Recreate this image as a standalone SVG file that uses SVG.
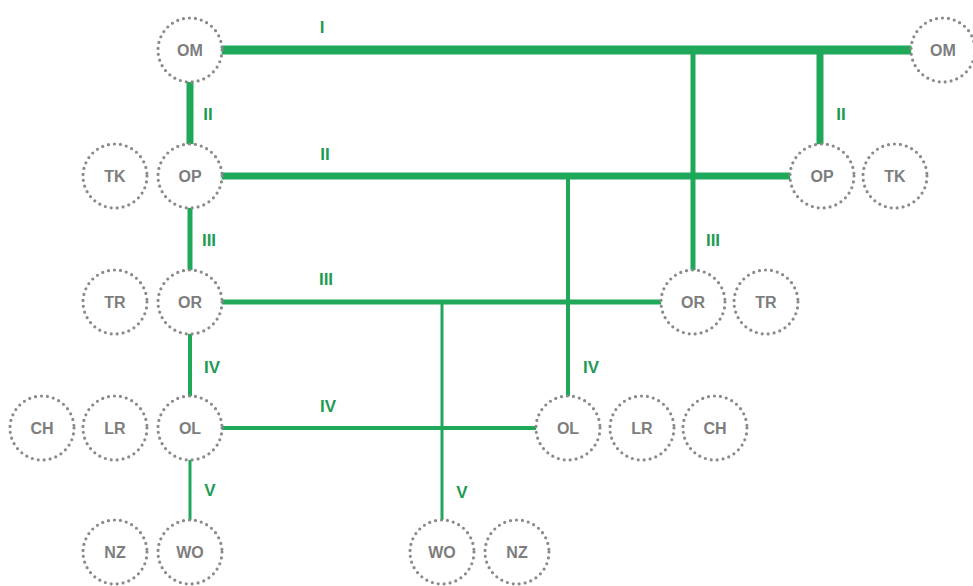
<svg xmlns="http://www.w3.org/2000/svg" width="973" height="586" viewBox="0 0 973 586">
  <style>
    .node circle { fill: #ffffff; stroke: #8a8a8a; stroke-width: 3.2; stroke-dasharray: 0 6; stroke-linecap: round; }
    .node text { font-family: "Liberation Sans", Arial, sans-serif; font-weight: bold; font-size: 16px; fill: #7d7d7d; text-anchor: middle; dominant-baseline: central; }
    .edges line { stroke: #1fa85a; stroke-linecap: butt; fill: none; }
    .w1 { stroke-width: 9; }
    .w2 { stroke-width: 7; }
    .w3 { stroke-width: 5; }
    .w4 { stroke-width: 4; }
    .w5 { stroke-width: 3; }
    .lbl { font-family: "Liberation Sans", Arial, sans-serif; font-weight: bold; font-size: 17px; fill: #1f9a55; text-anchor: middle; dominant-baseline: central; }
  </style>
  <rect width="973" height="586" fill="#ffffff"/>

  <!-- connectors, drawn first so the circles sit on top -->
  <g id="connectors" class="edges">
    <line class="w1" x1="220" y1="50" x2="914" y2="50"/>
    <line class="w2" x1="190" y1="80" x2="190" y2="146"/>
    <line class="w2" x1="220" y1="176" x2="792" y2="176"/>
    <line class="w2" x1="820" y1="50" x2="820" y2="146"/>
    <line class="w3" x1="693" y1="50" x2="693" y2="273"/>
    <line class="w3" x1="190" y1="206" x2="190" y2="273"/>
    <line class="w3" x1="220" y1="302" x2="663" y2="302"/>
    <line class="w4" x1="568" y1="176" x2="568" y2="399"/>
    <line class="w4" x1="190" y1="332" x2="190" y2="399"/>
    <line class="w4" x1="220" y1="428" x2="538" y2="428"/>
    <line class="w5" x1="442" y1="302" x2="442" y2="523"/>
    <line class="w5" x1="190" y1="458" x2="190" y2="523"/>
  </g>

  <!-- connector labels -->
  <g id="labels">
    <text class="lbl" x="322" y="27">I</text>
    <text class="lbl" x="208" y="114">II</text>
    <text class="lbl" x="325" y="154">II</text>
    <text class="lbl" x="841" y="114">II</text>
    <text class="lbl" x="209" y="240">III</text>
    <text class="lbl" x="326" y="279">III</text>
    <text class="lbl" x="713" y="240">III</text>
    <text class="lbl" x="212" y="367">IV</text>
    <text class="lbl" x="328" y="406">IV</text>
    <text class="lbl" x="591" y="367">IV</text>
    <text class="lbl" x="210" y="490">V</text>
    <text class="lbl" x="462" y="492">V</text>
  </g>

  <!-- left column -->
  <g id="om-left" class="node"><circle cx="190" cy="50" r="32"/><text x="190" y="50">OM</text></g>
  <g id="tk-left" class="node"><circle cx="115" cy="176" r="32"/><text x="115" y="176">TK</text></g>
  <g id="op-left" class="node"><circle cx="190" cy="176" r="32"/><text x="190" y="176">OP</text></g>
  <g id="tr-left" class="node"><circle cx="115" cy="302" r="32"/><text x="115" y="302">TR</text></g>
  <g id="or-left" class="node"><circle cx="190" cy="302" r="32"/><text x="190" y="302">OR</text></g>
  <g id="ch-left" class="node"><circle cx="42" cy="428" r="32"/><text x="42" y="428">CH</text></g>
  <g id="lr-left" class="node"><circle cx="115" cy="428" r="32"/><text x="115" y="428">LR</text></g>
  <g id="ol-left" class="node"><circle cx="190" cy="428" r="32"/><text x="190" y="428">OL</text></g>
  <g id="nz-left" class="node"><circle cx="115" cy="552" r="32"/><text x="115" y="552">NZ</text></g>
  <g id="wo-left" class="node"><circle cx="190" cy="552" r="32"/><text x="190" y="552">WO</text></g>

  <!-- right side -->
  <g id="om-right" class="node"><circle cx="943" cy="50" r="32"/><text x="943" y="50">OM</text></g>
  <g id="op-right" class="node"><circle cx="822" cy="176" r="32"/><text x="822" y="176">OP</text></g>
  <g id="tk-right" class="node"><circle cx="895" cy="176" r="32"/><text x="895" y="176">TK</text></g>
  <g id="or-right" class="node"><circle cx="693" cy="302" r="32"/><text x="693" y="302">OR</text></g>
  <g id="tr-right" class="node"><circle cx="766" cy="302" r="32"/><text x="766" y="302">TR</text></g>
  <g id="ol-right" class="node"><circle cx="568" cy="428" r="32"/><text x="568" y="428">OL</text></g>
  <g id="lr-right" class="node"><circle cx="642" cy="428" r="32"/><text x="642" y="428">LR</text></g>
  <g id="ch-right" class="node"><circle cx="715" cy="428" r="32"/><text x="715" y="428">CH</text></g>
  <g id="wo-right" class="node"><circle cx="442" cy="552" r="32"/><text x="442" y="552">WO</text></g>
  <g id="nz-right" class="node"><circle cx="517" cy="552" r="32"/><text x="517" y="552">NZ</text></g>
</svg>
